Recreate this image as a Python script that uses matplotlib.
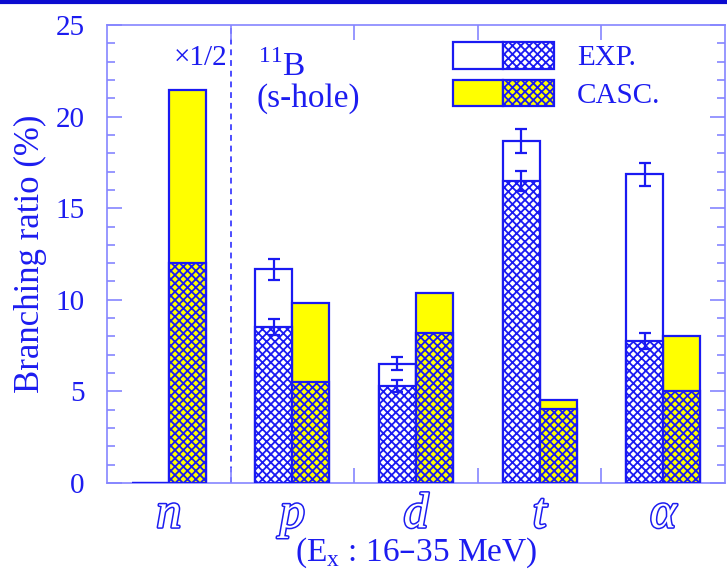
import matplotlib
matplotlib.use("Agg")
import matplotlib.pyplot as plt
import matplotlib.patheffects as pe
from matplotlib.patches import Patch
from matplotlib.legend_handler import HandlerTuple
from matplotlib.lines import Line2D
import numpy as np

# Decay channels of 11B s-hole states (Ex: 16-35 MeV)
channels = ["n", "p", "d", "t", "α"]

# Experimental branching ratios (%): total and hatched (lower) part, with errors
exp_total = [0.0, 11.67, 6.51, 18.67, 16.84]
exp_total_err = [0.0, 0.57, 0.36, 0.63, 0.65]
exp_lower = [0.0, 8.51, 5.29, 16.49, 7.76]
exp_lower_err = [0.0, 0.44, 0.34, 0.56, 0.44]

# Statistical-decay (CASC.) branching ratios (%); n channel drawn at x1/2
casc_total = [21.44, 9.80, 10.38, 4.53, 8.02]
casc_lower = [12.02, 5.49, 8.17, 4.02, 5.04]

yticks = [0, 5, 10, 15, 20, 25]

BLUE = "#1a1af2"
TEXT = "#1c1cf0"
SPINE = "#8585ff"
YELLOW = "#ffff00"
HATCH = "xxxx"

plt.rcParams["font.family"] = ["Liberation Serif", "DejaVu Serif"]
plt.rcParams["hatch.linewidth"] = 1.3
plt.rcParams["hatch.color"] = BLUE

fig = plt.figure(figsize=(7.27, 5.69), dpi=100)
ax = fig.add_axes([107 / 727, 86 / 569, 618 / 727, 458 / 569])

x = np.arange(len(channels))
w = 0.3
lw = 1.6

# EXP bars (left of each pair)
ax.bar(x - w / 2, exp_total, w, color="white", edgecolor=BLUE, linewidth=lw, zorder=2)
ax.bar(x - w / 2, exp_lower, w, color="white", edgecolor=BLUE, linewidth=lw,
       hatch=HATCH, zorder=3)
# CASC bars (right of each pair)
ax.bar(x + w / 2, casc_total, w, color=YELLOW, edgecolor=BLUE, linewidth=lw, zorder=2)
ax.bar(x + w / 2, casc_lower, w, color=YELLOW, edgecolor=BLUE, linewidth=lw,
       hatch=HATCH, zorder=3)

# Error bars on the measured values (n channel has none)
m = np.array(exp_total) > 0
ax.errorbar((x - w / 2)[m], np.array(exp_total)[m], yerr=np.array(exp_total_err)[m],
            fmt="none", ecolor=BLUE, elinewidth=1.6, capsize=4.5, capthick=1.6, zorder=4)
ax.errorbar((x - w / 2)[m], np.array(exp_lower)[m], yerr=np.array(exp_lower_err)[m],
            fmt="none", ecolor=BLUE, elinewidth=1.6, capsize=4.5, capthick=1.6, zorder=4)

# Separator between the scaled n channel and the others
ax.axvline(0.5, color="#4d4dff", lw=1.4, ls=(0, (3, 2.5)), zorder=1)

ax.set_xlim(-0.5, 4.5)
ax.set_ylim(0, 25)

# Axes styling
for s in ax.spines.values():
    s.set_color(SPINE)
    s.set_linewidth(1.2)

ax.set_yticks(yticks)
ax.set_yticklabels([str(v) for v in yticks])
ax.set_yticks(np.arange(0, 26, 1), minor=True)
ax.tick_params(axis="y", which="major", direction="in", length=11, width=1.2,
               color=SPINE, left=True, right=True, labelsize=21, labelcolor=TEXT, pad=16)
ax.tick_params(axis="y", which="minor", direction="in", length=5.5, width=1.2,
               color=SPINE, left=True, right=True)

ax.set_xticks(x)
ax.set_xticklabels([])
ax.set_xticks(np.arange(0.5, 4.0, 1.0), minor=True)
ax.tick_params(axis="x", which="major", length=0)
ax.tick_params(axis="x", which="minor", direction="in", length=11, width=1.2,
               color=SPINE, top=True, bottom=True)

# Hollow italic channel symbols
for xi, lab in zip(x, channels):
    ax.text(xi, -1.75, lab, ha="center", va="center", fontsize=36, style="italic",
            color="white",
            path_effects=[pe.withStroke(linewidth=2.2, foreground=TEXT)])

ax.set_xlabel(r"(E$_\mathregular{x}$ : 16–35 MeV)", fontsize=24, color=TEXT, labelpad=34)
ax.set_ylabel("Branching ratio (%)", fontsize=25, color=TEXT, labelpad=6)

# Annotations
ax.text(0.47, 23.2, "×1/2", ha="right", va="center", fontsize=21, color=TEXT)
ax.text(0.72, 22.75, r"$^{\mathregular{11}}$B", ha="left", va="center", fontsize=24,
        color=TEXT)
ax.text(0.71, 21.0, "(s-hole)", ha="left", va="center", fontsize=24, color=TEXT)

# Legend with split (plain | hatched) keys
h_exp = (Patch(facecolor="white", edgecolor=BLUE, linewidth=lw),
         Patch(facecolor="white", edgecolor=BLUE, linewidth=lw, hatch=HATCH))
h_casc = (Patch(facecolor=YELLOW, edgecolor=BLUE, linewidth=lw),
          Patch(facecolor=YELLOW, edgecolor=BLUE, linewidth=lw, hatch=HATCH))
leg = ax.legend([h_exp, h_casc], ["EXP.", "CASC."],
                handler_map={tuple: HandlerTuple(ndivide=None, pad=0)},
                loc="upper left", bbox_to_anchor=(0.56, 0.962), frameon=False,
                fontsize=21, handlelength=3.45, handleheight=1.0, handletextpad=0.8,
                labelspacing=0.28, borderpad=0, borderaxespad=0)
for t in leg.get_texts():
    t.set_color(TEXT)

# Frame rule along the top of the slide
fig.add_artist(Line2D([0, 1], [0.997, 0.997], transform=fig.transFigure,
                      color="#0b0bd0", lw=3))

fig.savefig("out.png", dpi=100)
